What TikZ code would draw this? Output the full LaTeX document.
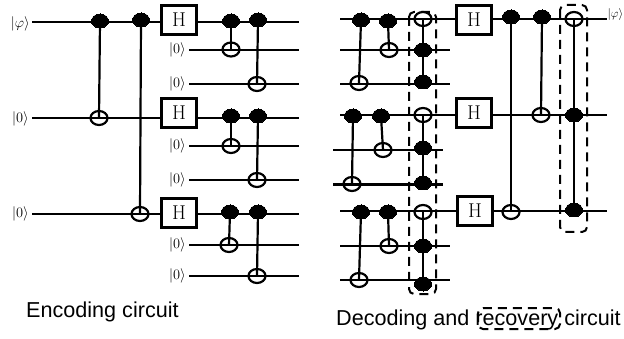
\documentclass[tikz,border=0pt]{standalone}
\usepackage{fontspec}
\usetikzlibrary{shapes.geometric}
\newfontfamily\arialfont{Liberation Sans}
\tikzset{
  wire/.style={line width=2.2pt,black},
  ketlab/.style={inner sep=0pt,anchor=east,font=\fontsize{14}{16}\selectfont},
  hbox/.style={draw,line width=2.4pt,fill=white,minimum width=35pt,minimum height=29pt,inner sep=0pt,font=\fontsize{20}{22}\selectfont},
  ctrldot/.style={ellipse,fill=black,draw=black,line width=0pt,minimum width=17pt,minimum height=14pt,inner sep=0pt},
  targ/.style={ellipse,draw=black,line width=2.2pt,minimum width=17pt,minimum height=14pt,inner sep=0pt},
  endpt/.style={coordinate},
  dashbox/.style={draw,dash pattern=on 9pt off 6pt,line width=2pt,rounded corners=5pt},
  caption/.style={inner sep=0pt,font=\arialfont\fontsize{21.6}{24}\selectfont}
}
% \cnotgate{name}{xctrl}{yctrl}{xtarg}{ytarg}
\newcommand{\cnotgate}[5]{%
  \node[targ] (#1t) at (#4,#5) {};
  \node[ctrldot] (#1c) at (#2,#3) {};
  \draw[wire] (#1c.center) -- (#1t.center);
}
\begin{document}
\begin{tikzpicture}[x=1pt,y=-1pt]
\useasboundingbox (0,0) rectangle (624,339);

% ---------- Encoding circuit
\node[ketlab] (ka) at (30,24) {$|\varphi\rangle$};
\node[ketlab] (kb) at (29,119) {$|0\rangle$};
\node[ketlab] (kc) at (29,214) {$|0\rangle$};
\foreach \n/\y in {a1/50,a2/84,b1/146,b2/180,c1/245,c2/276}{
  \node[ketlab] (k\n) at (186,\y) {$|0\rangle$};
  \node[endpt] (e\n) at (299,\y) {};
  \node[endpt] (w\n) at (189,\y) {};
  \draw[wire] (w\n) -- (e\n);
}
\node[hbox] (ha) at (179,20) {H};
\node[hbox] (hb) at (179,113) {H};
\node[hbox] (hc) at (179,213) {H};
\foreach \n/\y in {a/22,b/118,c/214}{
  \node[endpt] (e\n) at (299,\y) {};
  \node[endpt] (w\n) at (32,\y) {};
  \draw[wire] (w\n) -- (h\n.west |- w\n);
  \draw[wire] (h\n.east |- e\n) -- (e\n);
}
\cnotgate{p1}{100}{21}{99}{118}
\cnotgate{p2}{141}{20}{140}{214}
\cnotgate{q1}{231}{21}{231}{49.5}
\cnotgate{q2}{258}{20}{257}{84}
\cnotgate{q3}{231}{116}{231}{146}
\cnotgate{q4}{258}{116}{257}{180}
\cnotgate{q5}{230}{212}{229}{245}
\cnotgate{q6}{258}{212}{257}{276}

% ---------- Decoding and recovery circuit
\node[hbox] (hd) at (474,20) {H};
\node[hbox] (he) at (474,113) {H};
\node[hbox] (hf) at (475,211) {H};
\foreach \n/\xa/\y/\xb in {a/340/19/607,b/340/115/607,c/340/211/607}{
  \node[endpt] (s\n) at (\xa,\y) {};
  \node[endpt] (f\n) at (\xb,\y) {};
}
\draw[wire] (sa) -- (hd.west |- sa);
\draw[wire] (hd.east |- fa) -- (fa);
\draw[wire] (sb) -- (he.west |- sb);
\draw[wire] (he.east |- fb) -- (fb);
\draw[wire] (sc) -- (hf.west |- sc);
\draw[wire] (hf.east |- fc) -- (fc);
\foreach \n/\xa/\y/\xb in {d/340/50/450,e/340/84/450,f/333/150/443,g/333/184.5/443,h/340/246/450,i/340/280/450}{
  \node[endpt] (s\n) at (\xa,\y) {};
  \node[endpt] (f\n) at (\xb,\y) {};
  \draw[wire] (s\n) -- (f\n);
}
\cnotgate{r1}{361}{20}{359}{83}
\cnotgate{r2}{388}{21}{389}{50}
\cnotgate{r3}{353}{116}{352}{184}
\cnotgate{r4}{381}{116}{383}{150}
\cnotgate{r5}{361}{212}{359}{280}
\cnotgate{r6}{388}{212}{389}{246}

\cnotgate{s1}{423}{50}{423}{19}
\node[ctrldot] (s2) at (423,82) {};
\draw[wire] (s1c.center) -- (s2.center);
\cnotgate{s3}{423}{148}{423}{115}
\node[ctrldot] (s4) at (423,183) {};
\draw[wire] (s3c.center) -- (s4.center);
\cnotgate{s5}{423}{246}{423}{212}
\node[ctrldot] (s6) at (423,284) {};
\draw[wire] (s5c.center) -- (s6.center);

\cnotgate{u1}{511}{17}{511}{212}
\cnotgate{u2}{542}{17}{541}{115}
\cnotgate{u3}{574}{115}{574}{19}
\node[ctrldot] (u4) at (574,210) {};
\draw[wire] (u3c.center) -- (u4.center);

\node[ketlab,anchor=east,font=\fontsize{12.5}{14}\selectfont] (kz) at (623.5,15) {$|\varphi\rangle$};

\node[endpt] (d1a) at (409,12) {};
\node[endpt] (d1b) at (436,294) {};
\draw[dashbox] (d1a) rectangle (d1b);
\node[endpt] (d2a) at (560,5) {};
\node[endpt] (d2b) at (587,232) {};
\draw[dashbox] (d2a) rectangle (d2b);

% ---------- Captions
\node[caption,anchor=west] (capa) at (26,312) {Encoding circuit};
\node[caption,anchor=west] (capb) at (336,320) {Decoding and recovery circuit};
\node[endpt] (d3a) at (478,308) {};
\node[endpt] (d3b) at (560,329) {};
\draw[dashbox] (d3a) rectangle (d3b);
\end{tikzpicture}
\end{document}
